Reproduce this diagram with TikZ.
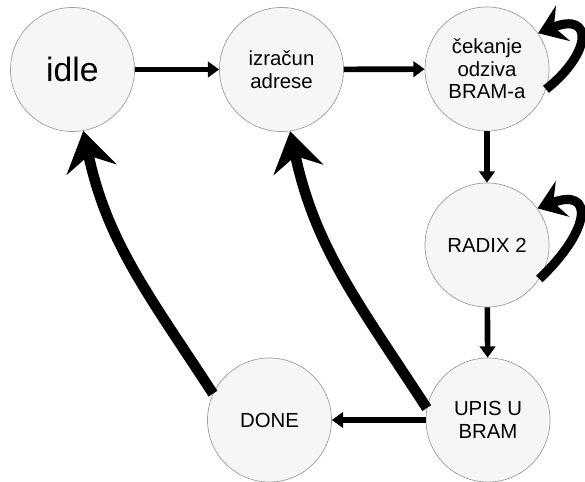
\documentclass[tikz,border=0pt]{standalone}
\usepackage{fontspec}
\setmainfont{Liberation Sans}
\usetikzlibrary{arrows.meta}
\tikzset{
  state/.style={
    circle,
    draw=gray!75,
    line width=0.5pt,
    fill=gray!7,
    minimum size=3.1cm,
    inner sep=0pt,
    align=center,
    font=\fontsize{14.5}{16}\selectfont
  }
}
\tikzstyle{arrow} = [-{Triangle[length=8pt,width=11pt]}, line width=4pt]
\tikzstyle{backarrow} = [-{Stealth[length=28pt,width=36pt,inset=10pt]}, line width=7.5pt]
\tikzstyle{selfloop} = [-{Stealth[length=19pt,width=27pt,inset=7pt]}, line width=6.5pt]

\begin{document}
\begin{tikzpicture}[x=0.025cm,y=0.025cm]
    \useasboundingbox (0,0) rectangle (585,481);
    \node[state, font=\fontsize{24}{28}\selectfont] (idle) at (72.5,411.5) {idle};
    \node[state] (adr) at (281.5,411.5) {izračun\\adrese};
    \node[state] (cek) at (487,412) {čekanje\\odziva\\BRAM-a};
    \node[state] (radix) at (487,236) {RADIX 2};
    \node[state] (upis) at (488,61) {UPIS U\\BRAM};
    \node[state] (done) at (269.5,61) {DONE};
    \draw[arrow] (idle) -- (adr);
    \draw[arrow] (adr) -- (cek);
    \draw[arrow] (cek) -- (radix);
    \draw[arrow] (radix) -- (upis);
    \draw[arrow] (upis) -- (done);
    \draw[backarrow] (done.155) to [out=123, in=-78] (idle.-80);
    \draw[backarrow] (upis.169) to [out=123, in=-78] (adr.-82);
    \draw[selfloop] (cek.-19) .. controls (592,428) and (594,470) .. (cek.35);
    \draw[selfloop] (radix.-33) .. controls (592,252) and (594,294) .. (radix.36);
  \end{tikzpicture}
\end{document}
